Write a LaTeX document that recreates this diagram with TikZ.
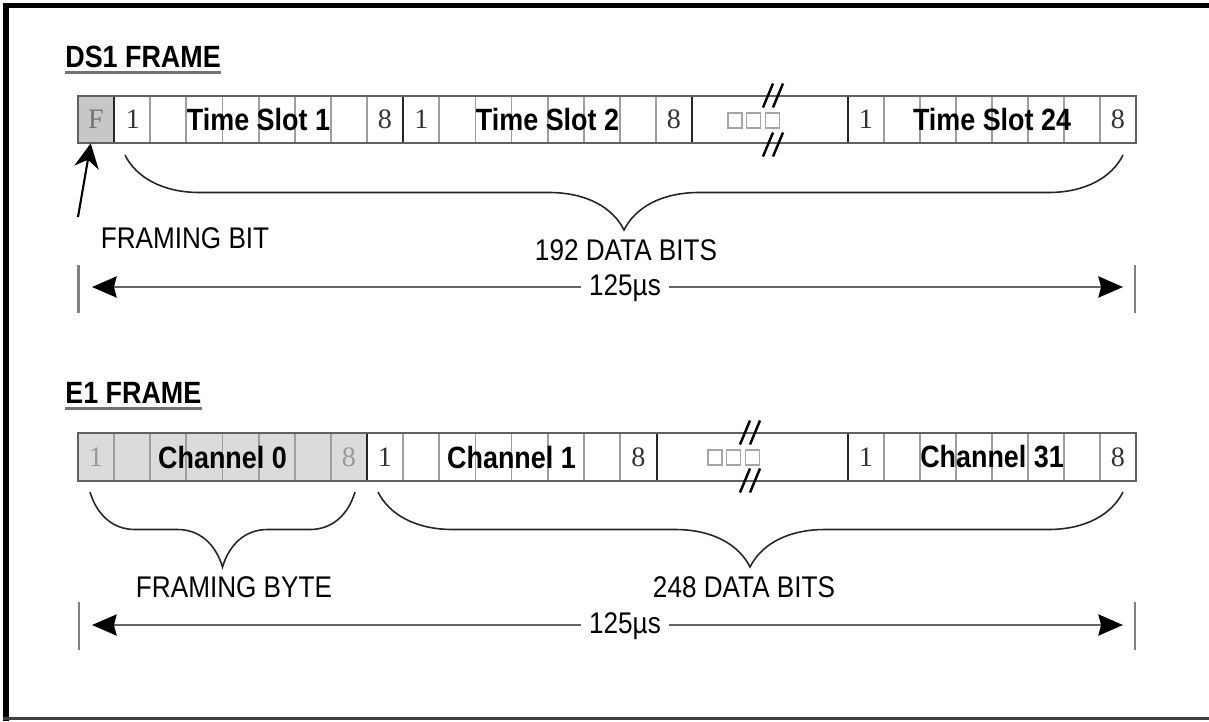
\documentclass[tikz,border=0pt]{standalone}
\usepackage{fontspec}
\setmainfont{Liberation Sans}[FakeStretch=0.875]
\newfontfamily\numfont{Liberation Serif}
\usetikzlibrary{arrows.meta,positioning,calc}

\definecolor{bitgray}{gray}{0.62}
\definecolor{rowgray}{gray}{0.38}
\definecolor{fbitfill}{gray}{0.78}
\definecolor{chzerofill}{gray}{0.86}

% two slashes of a break mark, centred at (#1,#2)
\newcommand{\breakmark}[2]{%
  \foreach \d in {0,10}
    \draw[line width=1.4pt] ({#1-11+\d},{#2+12}) -- ({#1-1+\d},{#2-12});}

% brace opening downwards: left x, right x, tip x, top y, curve width
\newcommand{\bracedown}[5]{%
  \draw[brc] (#1,#4) .. controls ({#1+0.15*#5},{#4+22.5}) and ({#1+0.5*#5},{#4+37.5}) .. ({#1+#5},{#4+37.5})
    -- ({#3-#5},{#4+37.5}) .. controls ({#3-0.5*#5},{#4+37.5}) and ({#3-0.15*#5},{#4+52.5}) .. (#3,{#4+75})
    .. controls ({#3+0.15*#5},{#4+52.5}) and ({#3+0.5*#5},{#4+37.5}) .. ({#3+#5},{#4+37.5})
    -- ({#2-#5},{#4+37.5}) .. controls ({#2-0.5*#5},{#4+37.5}) and ({#2-0.15*#5},{#4+22.5}) .. (#2,#4);}

\begin{document}
\begin{tikzpicture}[x=0.02cm, y=-0.02cm, >=Stealth,
  title/.style={font=\bfseries\fontsize{17.5}{20}\selectfont, anchor=base west, inner sep=0pt},
  uline/.style={draw=black!55, line width=1.6pt},
  slot/.style={font=\bfseries\fontsize{17.5}{20}\selectfont, inner sep=0pt},
  bitno/.style={font=\numfont\fontsize{16}{18}\selectfont, inner sep=0pt, text=black!80},
  note/.style={font=\fontsize{17}{20}\selectfont, inner sep=0pt},
  bitsep/.style={draw=bitgray, line width=1pt},
  bytesep/.style={draw=black!85, line width=1.3pt},
  rowline/.style={draw=rowgray, line width=1.6pt},
  sq/.style={draw=black!35, line width=0.8pt},
  brc/.style={draw=black!85, line width=0.9pt},
  dim/.style={draw=black!60, line width=1.4pt,
              arrows={Stealth[length=14pt, width=12pt, inset=1.5pt, color=black]-Stealth[length=14pt, width=12pt, inset=1.5pt, color=black]}},
  tick/.style={draw=black!50, line width=1.6pt},
  durlbl/.style={note, fill=white, inner xsep=4.5pt, inner ysep=1pt, anchor=base}]
  \useasboundingbox (0,0) rectangle (1209,721);
  \def\cw{36.125}

  % outer frame
  \draw[line width=3.4pt] (6,721) -- (6,5.5) -- (1209,5.5);
  \draw[black!75, line width=1.2pt] (3,718.5) -- (1209,718.5);

  % ---------- DS1 frame ----------
  \node[title] (dstitle) at (65,67) {DS1 FRAME};
  \draw[uline] ([yshift=-3pt]dstitle.base west) -- ([yshift=-3pt]dstitle.base east);

  \node[fill=fbitfill, minimum width=0.72cm, minimum height=0.94cm, inner sep=0pt] (fcell) at (96,119.5) {};
  \foreach \k in {2,...,8,10,11,...,16}
    \draw[bitsep] ({78+\k*\cw},96) -- ({78+\k*\cw},143);
  \foreach \k in {1,...,7}
    \draw[bitsep] ({848+\k*36},96) -- ({848+\k*36},143);
  \foreach \xb in {114,403,692,848}
    \draw[bytesep] (\xb,96) -- (\xb,143);
  \draw[rowline] (78,96) rectangle (1136,143);

  \node[bitno, text=black!55] at (fcell) {F};
  \node[bitno] (ts1a) at (133,119.5) {1};
  \node[slot]  (ts1)  at (258.5,119.5) {Time Slot 1};
  \node[bitno] (ts1b) at (385,119.5) {8};
  \node[bitno] (ts2a) at (421.5,119.5) {1};
  \node[slot]  (ts2)  at (547.5,119.5) {Time Slot 2};
  \node[bitno] (ts2b) at (674,119.5) {8};
  \node[bitno] (ts24a) at (866,119.5) {1};
  \node[slot]  (ts24)  at (992,119.5) {Time Slot 24};
  \node[bitno] (ts24b) at (1118,119.5) {8};

  \foreach \i in {0,1,2}
    \draw[sq] ({728+\i*18.7},113) rectangle ++(14,15);
  \breakmark{774}{95.5}
  \breakmark{774}{144.5}

  \coordinate (fbtail) at (78,217);
  \draw[->, line width=1.2pt, >={Stealth[length=14pt, width=14pt]}] (fbtail) -- ([xshift=-3pt]fcell.south);
  \node[note] (fblbl) at (185,238) {FRAMING BIT};

  \bracedown{125}{1123}{624}{155}{75}
  \node[note] (dsbits) at (626,250) {192 DATA BITS};

  \draw[tick] (78.5,265) -- (78.5,313);
  \draw[tick] (1135,265) -- (1135,313);
  \coordinate (dsL) at (92,287);
  \coordinate (dsR) at (1123,287);
  \draw[dim] (dsL) -- (dsR);
  \node[durlbl] (dsdur) at (625,295) {125µs};

  % ---------- E1 frame ----------
  \node[title] (e1title) at (65,403) {E1 FRAME};
  \draw[uline] ([yshift=-3pt]e1title.base west) -- ([yshift=-3pt]e1title.base east);

  \fill[chzerofill] (78,433) rectangle (367,481);
  \foreach \k in {1,...,7,9,10,...,15}
    \draw[bitsep] ({78+\k*\cw},433) -- ({78+\k*\cw},481);
  \foreach \k in {1,...,7}
    \draw[bitsep] ({848+\k*36},433) -- ({848+\k*36},481);
  \foreach \xb in {367,657,848}
    \draw[bytesep] (\xb,433) -- (\xb,481);
  \draw[rowline] (78,433) rectangle (1136,481);

  \node[bitno, text=black!40] (ch0a) at (96,457) {1};
  \node[slot]  (ch0)  at (222.5,457) {Channel 0};
  \node[bitno, text=black!40] (ch0b) at (349,457) {8};
  \node[bitno] (ch1a) at (385,457) {1};
  \node[slot]  (ch1)  at (511.5,457) {Channel 1};
  \node[bitno] (ch1b) at (638.5,457) {8};
  \node[bitno] (ch31a) at (866,457) {1};
  \node[slot]  (ch31)  at (992,457) {Channel 31};
  \node[bitno] (ch31b) at (1118,457) {8};

  \foreach \i in {0,1,2}
    \draw[sq] ({708+\i*18.7},450) rectangle ++(14,15);
  \breakmark{751}{432.5}
  \breakmark{751}{480.5}

  \bracedown{90}{355}{222.5}{492}{45}
  \bracedown{378}{1123}{750}{492}{75}
  \node[note] (fbyte) at (234,587) {FRAMING BYTE};
  \node[note] (e1bits) at (744,587) {248 DATA BITS};

  \draw[tick] (79,602) -- (79,650);
  \draw[tick] (1135,602) -- (1135,650);
  \coordinate (e1L) at (92,625);
  \coordinate (e1R) at (1123,625);
  \draw[dim] (e1L) -- (e1R);
  \node[durlbl] (e1dur) at (625,633) {125µs};
\end{tikzpicture}
\end{document}
